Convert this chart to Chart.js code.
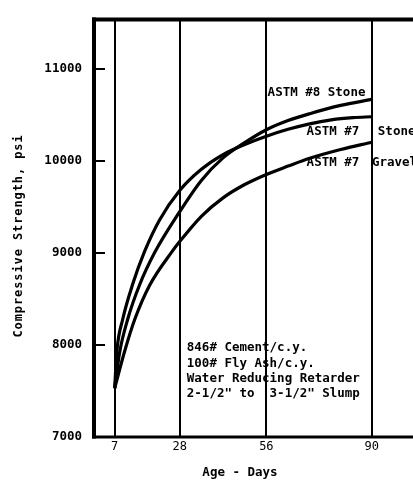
<!DOCTYPE html>
<html>
<head>
<meta charset="utf-8">
<script src="https://cdn.jsdelivr.net/npm/chart.js@4.4.1/dist/chart.umd.min.js"></script>
<style>
  html, body { margin: 0; padding: 0; background: #fff; overflow: hidden; }
  canvas { display: block; }
</style>
</head>
<body>
<canvas id="c" width="413" height="480"></canvas>
<script>
// Axis ticks
const ageTicks = [7, 28, 56, 90];
const strengthTicks = [7000, 8000, 9000, 10000, 11000];

// ASTM #8 stone
const stone8Days = [7, 8.6, 11.2, 15, 20, 28, 35, 42, 49, 56, 63, 70, 80, 90];
const stone8Psi  = [7530, 7920, 8280, 8650, 9010, 9450, 9790, 10035, 10200, 10340, 10440, 10515, 10605, 10670];

// ASTM #7 stone
const stone7Days = [7, 7.7, 9.6, 12.8, 16.7, 21.5, 28, 35, 42, 49, 56, 63, 70, 77, 84, 90];
const stone7Psi  = [7530, 7930, 8280, 8660, 9020, 9360, 9680, 9910, 10070, 10180, 10270, 10345, 10405, 10448, 10472, 10482];

// ASTM #7 gravel
const gravel7Days = [7, 10.2, 13.5, 18.3, 25.4, 28, 35, 42, 49, 56, 63, 70, 80, 90];
const gravel7Psi  = [7530, 7930, 8280, 8650, 9010, 9125, 9400, 9600, 9745, 9855, 9945, 10030, 10125, 10205];

const seriesNames = ['ASTM #8 Stone', 'ASTM #7 Stone', 'ASTM #7 Gravel'];

const xTitle = 'Age - Days';
const yTitle = 'Compressive Strength, psi';
const mixNotes = [
  '846# Cement/c.y.',
  '100# Fly Ash/c.y.',
  'Water Reducing Retarder',
  '2-1/2" to  3-1/2" Slump'
];

const MONO = '"DejaVu Sans Mono", "Liberation Mono", monospace';

function toPoints(days, psi) {
  return days.map((d, i) => ({ x: d, y: psi[i] }));
}

const series = [
  toPoints(stone8Days, stone8Psi),
  toPoints(stone7Days, stone7Psi),
  toPoints(gravel7Days, gravel7Psi)
];

// Paper background and the mix notes (grid lines pass over the notes)
const underlay = {
  id: 'underlay',
  beforeDraw(chart) {
    const { ctx, scales: { x, y } } = chart;
    ctx.save();
    ctx.fillStyle = '#fff';
    ctx.fillRect(0, 0, chart.width, chart.height);
    ctx.fillStyle = '#000';
    ctx.font = 'bold 12.5px ' + MONO;
    ctx.textBaseline = 'middle';
    ctx.textAlign = 'left';
    const nx = x.getPixelForValue(30.3);
    const ny = y.getPixelForValue(7965);
    mixNotes.forEach((t, i) => ctx.fillText(t, nx, ny + i * 15.3));
    ctx.restore();
  }
};

// Frame, inward tick marks, curve labels and axis titles
const overlay = {
  id: 'overlay',
  afterDraw(chart) {
    const { ctx, chartArea: a, scales: { x, y } } = chart;
    ctx.save();
    ctx.strokeStyle = '#000';
    ctx.lineCap = 'butt';

    // left axis
    ctx.lineWidth = 4;
    ctx.beginPath();
    ctx.moveTo(a.left + 1, a.top - 1);
    ctx.lineTo(a.left + 1, a.bottom + 1.5);
    ctx.stroke();
    // top border
    ctx.beginPath();
    ctx.moveTo(a.left - 1, a.top + 1);
    ctx.lineTo(a.right, a.top + 1);
    ctx.stroke();
    // bottom axis
    ctx.lineWidth = 3;
    ctx.beginPath();
    ctx.moveTo(a.left - 1, a.bottom);
    ctx.lineTo(a.right, a.bottom);
    ctx.stroke();

    // short inward tick marks on the strength axis
    ctx.lineWidth = 2;
    strengthTicks.forEach(v => {
      const py = Math.round(y.getPixelForValue(v));
      ctx.beginPath();
      ctx.moveTo(a.left + 2, py);
      ctx.lineTo(a.left + 12, py);
      ctx.stroke();
    });

    ctx.fillStyle = '#000';
    ctx.textBaseline = 'middle';
    ctx.textAlign = 'left';
    ctx.font = 'bold 12.5px ' + MONO;

    // curve labels
    ctx.fillText(seriesNames[0], x.getPixelForValue(56.4), y.getPixelForValue(10743));
    const [s7a, s7b] = ['ASTM #7', 'Stone'];
    ctx.fillText(s7a, x.getPixelForValue(69), y.getPixelForValue(10314));
    ctx.fillText(s7b, x.getPixelForValue(92), y.getPixelForValue(10314));
    const [g7a, g7b] = ['ASTM #7', 'Gravel'];
    ctx.fillText(g7a, x.getPixelForValue(69), y.getPixelForValue(9981));
    ctx.fillText(g7b, x.getPixelForValue(90.1), y.getPixelForValue(9981));

    // axis titles
    ctx.textAlign = 'center';
    ctx.fillText(xTitle, 240, 473);

    ctx.translate(19, 236);
    ctx.rotate(-Math.PI / 2);
    ctx.font = 'bold 12px ' + MONO;
    ctx.letterSpacing = '0.9px';
    ctx.fillText(yTitle, 0, 0);
    ctx.restore();
  }
};

new Chart(document.getElementById('c'), {
  type: 'line',
  data: {
    datasets: series.map((pts, i) => ({
      label: seriesNames[i],
      data: pts,
      borderColor: '#000',
      borderWidth: 3.2,
      pointRadius: 0,
      fill: false,
      cubicInterpolationMode: 'monotone'
    }))
  },
  options: {
    responsive: false,
    animation: false,
    devicePixelRatio: 1,
    layout: { padding: { top: 13, right: 0, left: 0, bottom: 0 } },
    plugins: { legend: { display: false }, tooltip: { enabled: false } },
    scales: {
      x: {
        type: 'linear',
        min: 0,
        max: 103.36,
        afterBuildTicks: axis => { axis.ticks = ageTicks.map(v => ({ value: v })); },
        afterFit: axis => { axis.height = 43; },
        grid: { color: '#000', lineWidth: 2, drawTicks: false },
        border: { display: false },
        ticks: {
          color: '#000',
          padding: 3,
          autoSkip: false,
          maxRotation: 0,
          font: { family: MONO, size: 12 },
          callback: v => String(v)
        }
      },
      y: {
        min: 7000,
        max: 11550,
        afterBuildTicks: axis => { axis.ticks = strengthTicks.map(v => ({ value: v })); },
        afterFit: axis => { axis.width = 93; },
        grid: { display: false, drawTicks: false },
        border: { display: false },
        ticks: {
          color: '#000',
          padding: 11,
          font: { family: MONO, size: 12.5, weight: 'bold' },
          callback: v => String(v)
        }
      }
    }
  },
  plugins: [underlay, overlay]
});
</script>
</body>
</html>
